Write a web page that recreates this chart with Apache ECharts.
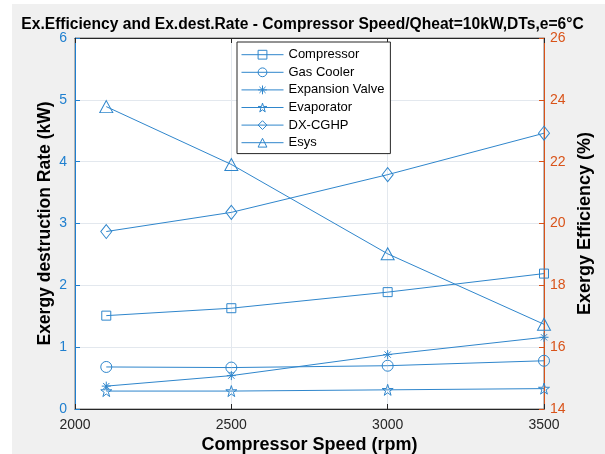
<!DOCTYPE html>
<html>
<head>
<meta charset="utf-8">
<script src="https://cdn.jsdelivr.net/npm/echarts@6/dist/echarts.min.js"></script>
<style>
  html, body { margin: 0; padding: 0; background: #ffffff; }
  #bg { position: absolute; left: 12px; top: 4px; width: 593px; height: 450px; background: #f0f0f0; }
  #chart { position: absolute; left: 0; top: 0; width: 605px; height: 454px; }
</style>
</head>
<body>
<div id="bg"></div>
<div id="chart"></div>
<script>
// Compressor speed (rpm)
const speeds = [2100, 2500, 3000, 3500];

// Exergy destruction rate per component (kW)
const compressor = [1.51, 1.63, 1.89, 2.19];
const gasCooler = [0.68, 0.67, 0.70, 0.78];
const expansionValve = [0.37, 0.54, 0.88, 1.16];
const evaporator = [0.29, 0.29, 0.31, 0.33];
const dxCghp = [2.87, 3.18, 3.79, 4.46];

// System exergy efficiency (%)
const esys = [23.78, 21.91, 19.02, 16.74];

const leftTicks = [0, 1, 2, 3, 4, 5, 6];
const rightTicks = [14, 16, 18, 20, 22, 24, 26];
const xTicks = [2000, 2500, 3000, 3500];

const BLUE = '#2f86cc';
const ORANGE = '#d95319';
const FONT = '"Liberation Sans", Arial, Helvetica, sans-serif';

// Marker shapes
const starPath = 'path://M50,0 L61.8,36.3 L100,36.3 L69.1,58.8 L80.9,95.1 L50,72.6 L19.1,95.1 L30.9,58.8 L0,36.3 L38.2,36.3 Z';
const asteriskPath = 'path://M50,0 L50,100 M0,50 L100,50 M15,15 L85,85 M85,15 L15,85';

const hollow = { color: 'rgba(0,0,0,0)', borderColor: BLUE, borderWidth: 1 };

function series(name, data, symbol, size, axis) {
  return {
    name: name,
    type: 'line',
    yAxisIndex: axis || 0,
    data: speeds.map((s, i) => [s, data[i]]),
    symbol: symbol,
    symbolSize: size,
    showSymbol: true,
    lineStyle: { color: BLUE, width: 1 },
    itemStyle: hollow,
    emphasis: { disabled: true },
    animation: false
  };
}

const names = ['Compressor', 'Gas Cooler', 'Expansion Valve', 'Evaporator', 'DX-CGHP', 'Esys'];

const chart = echarts.init(document.getElementById('chart'), null, { renderer: 'canvas' });
chart.setOption({
  backgroundColor: 'transparent',
  animation: false,
  textStyle: { fontFamily: FONT },
  title: {
    text: 'Ex.Efficiency and Ex.dest.Rate - Compressor Speed/Qheat=10kW,DTs,e=6°C',
    left: 'center',
    top: 12,
    textStyle: { fontFamily: FONT, fontSize: 15.6, fontWeight: 'bold', color: '#000' }
  },
  grid: {
    left: 75, right: 61, top: 38, bottom: 45,
    outerBoundsMode: 'none',
    containLabel: false,
    show: true, backgroundColor: '#ffffff', borderColor: '#7a7a7a', borderWidth: 1
  },
  legend: {
    orient: 'vertical',
    left: 237, top: 42,
    width: 151,
    backgroundColor: '#ffffff',
    borderColor: '#262626',
    borderWidth: 1,
    borderRadius: 0,
    padding: [6.2, 6, 4.4, 4],
    itemWidth: 42,
    itemHeight: 11,
    itemGap: 4.6,
    itemStyle: hollow,
    lineStyle: { color: BLUE, width: 1 },
    textStyle: { fontFamily: FONT, fontSize: 13, color: '#000' },
    data: names.map(n => ({ name: n, itemStyle: hollow }))
  },
  xAxis: [{
    type: 'value',
    min: xTicks[0], max: xTicks[xTicks.length - 1], interval: 500,
    name: 'Compressor Speed (rpm)',
    nameLocation: 'middle',
    nameGap: 27,
    nameMoveOverlap: false,
    nameTextStyle: { fontFamily: FONT, fontSize: 18, fontWeight: 'bold', color: '#000' },
    axisLine: { show: true, lineStyle: { color: '#262626', width: 1 } },
    axisTick: { show: true, inside: true, length: 5, lineStyle: { color: '#262626' } },
    axisLabel: { fontFamily: FONT, fontSize: 14, color: '#262626', margin: 9, formatter: v => String(v) },
    splitLine: { show: true, lineStyle: { color: '#e3e8ee', width: 1 } }
  }, {
    type: 'value', position: 'top',
    min: xTicks[0], max: xTicks[xTicks.length - 1], interval: 500,
    axisLine: { show: true, lineStyle: { color: '#262626', width: 1 } },
    axisTick: { show: true, inside: true, length: 5, lineStyle: { color: '#262626' } },
    axisLabel: { show: false },
    splitLine: { show: false }
  }],
  yAxis: [{
    type: 'value',
    min: leftTicks[0], max: leftTicks[leftTicks.length - 1], interval: 1,
    name: 'Exergy destruction Rate (kW)',
    nameLocation: 'middle',
    nameGap: 21,
    nameMoveOverlap: false,
    nameTextStyle: { fontFamily: FONT, fontSize: 17.5, fontWeight: 'bold', color: '#000' },
    axisLine: { show: true, lineStyle: { color: '#1f7fcf', width: 1 } },
    axisTick: { show: true, inside: true, length: 5, lineStyle: { color: '#1f7fcf' } },
    axisLabel: { fontFamily: FONT, fontSize: 14, color: '#1f7fcf', margin: 8 },
    splitLine: { show: true, lineStyle: { color: '#e3e8ee', width: 1 } }
  }, {
    type: 'value',
    position: 'right',
    min: rightTicks[0], max: rightTicks[rightTicks.length - 1], interval: 2,
    name: 'Exergy Efficiency (%)',
    nameLocation: 'middle',
    nameGap: 32,
    nameRotate: 90,
    nameMoveOverlap: false,
    nameTextStyle: { fontFamily: FONT, fontSize: 18, fontWeight: 'bold', color: '#000' },
    axisLine: { show: true, lineStyle: { color: ORANGE, width: 1 } },
    axisTick: { show: true, inside: true, length: 5, lineStyle: { color: ORANGE } },
    axisLabel: { fontFamily: FONT, fontSize: 14, color: ORANGE, margin: 6 },
    splitLine: { show: false }
  }],
  series: [
    series('Compressor', compressor, 'rect', 9),
    series('Gas Cooler', gasCooler, 'circle', 11),
    series('Expansion Valve', expansionValve, asteriskPath, 9),
    series('Evaporator', evaporator, starPath, 11),
    series('DX-CGHP', dxCghp, 'diamond', [11, 14]),
    series('Esys', esys, 'triangle', [13, 12], 1)
  ]
});
</script>
</body>
</html>
